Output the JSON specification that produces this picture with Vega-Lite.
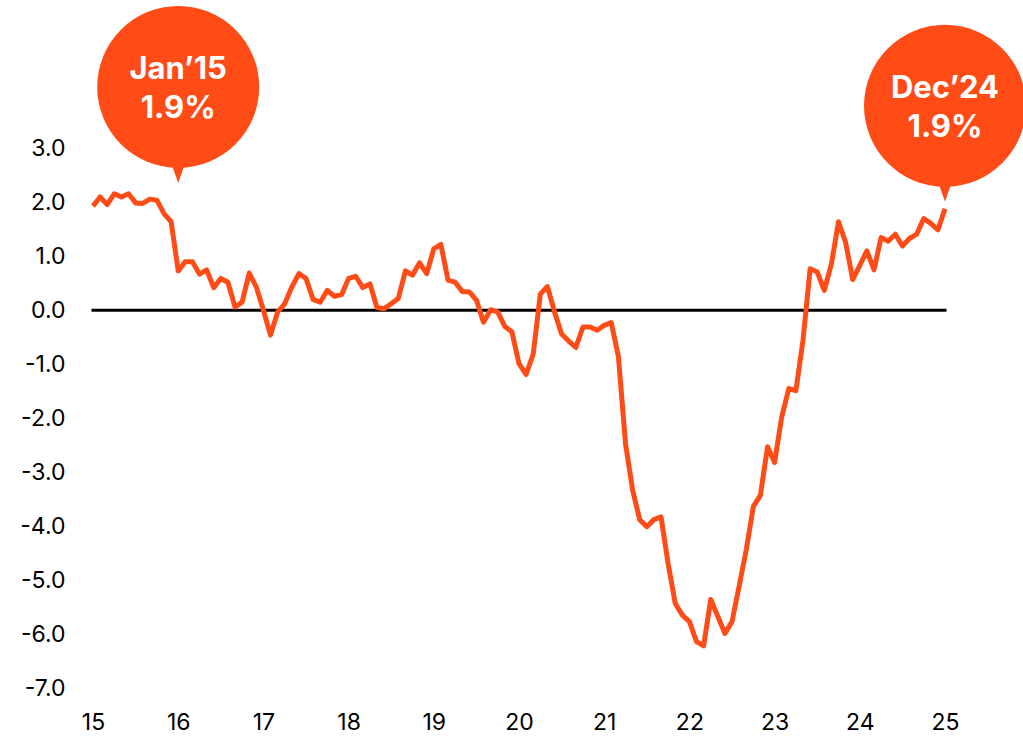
{
  "$schema": "https://vega.github.io/schema/vega-lite/v6.json",
  "width": 852,
  "height": 688,
  "autosize": "none",
  "padding": {"left": 93, "top": 0, "right": 78, "bottom": 48},
  "background": "white",
  "config": {
    "view": {"stroke": null},
    "axis": {"grid": false, "domain": false, "ticks": false, "title": null, "labelFont": "Inter", "labelFontSize": 23, "labelColor": "#000000", "labelFontWeight": "normal", "labelFlush": false}
  },
  "datasets": {
    "series": [
      {"year": 15, "value": 1.93}, {"year": 15.083, "value": 2.10}, {"year": 15.167, "value": 1.96}, {"year": 15.25, "value": 2.16},
      {"year": 15.333, "value": 2.10}, {"year": 15.417, "value": 2.16}, {"year": 15.5, "value": 1.99}, {"year": 15.583, "value": 1.98},
      {"year": 15.667, "value": 2.06}, {"year": 15.75, "value": 2.04}, {"year": 15.833, "value": 1.79}, {"year": 15.917, "value": 1.64},
      {"year": 16, "value": 0.73}, {"year": 16.083, "value": 0.90}, {"year": 16.167, "value": 0.90}, {"year": 16.25, "value": 0.67},
      {"year": 16.333, "value": 0.75}, {"year": 16.417, "value": 0.42}, {"year": 16.5, "value": 0.59}, {"year": 16.583, "value": 0.52},
      {"year": 16.667, "value": 0.06}, {"year": 16.75, "value": 0.15}, {"year": 16.833, "value": 0.69}, {"year": 16.917, "value": 0.43},
      {"year": 17, "value": 0.00}, {"year": 17.083, "value": -0.46}, {"year": 17.167, "value": -0.03}, {"year": 17.25, "value": 0.12},
      {"year": 17.333, "value": 0.43}, {"year": 17.417, "value": 0.68}, {"year": 17.5, "value": 0.59}, {"year": 17.583, "value": 0.20},
      {"year": 17.667, "value": 0.15}, {"year": 17.75, "value": 0.37}, {"year": 17.833, "value": 0.26}, {"year": 17.917, "value": 0.29},
      {"year": 18, "value": 0.59}, {"year": 18.083, "value": 0.63}, {"year": 18.167, "value": 0.42}, {"year": 18.25, "value": 0.49},
      {"year": 18.333, "value": 0.05}, {"year": 18.417, "value": 0.03}, {"year": 18.5, "value": 0.12}, {"year": 18.583, "value": 0.22},
      {"year": 18.667, "value": 0.73}, {"year": 18.75, "value": 0.65}, {"year": 18.833, "value": 0.88}, {"year": 18.917, "value": 0.68},
      {"year": 19, "value": 1.14}, {"year": 19.083, "value": 1.22}, {"year": 19.167, "value": 0.56}, {"year": 19.25, "value": 0.52},
      {"year": 19.333, "value": 0.35}, {"year": 19.417, "value": 0.34}, {"year": 19.5, "value": 0.19}, {"year": 19.583, "value": -0.22},
      {"year": 19.667, "value": 0.01}, {"year": 19.75, "value": -0.03}, {"year": 19.833, "value": -0.30}, {"year": 19.917, "value": -0.40},
      {"year": 20, "value": -0.99}, {"year": 20.083, "value": -1.19}, {"year": 20.167, "value": -0.81}, {"year": 20.25, "value": 0.30},
      {"year": 20.333, "value": 0.44}, {"year": 20.417, "value": -0.03}, {"year": 20.5, "value": -0.44}, {"year": 20.583, "value": -0.57},
      {"year": 20.667, "value": -0.69}, {"year": 20.75, "value": -0.31}, {"year": 20.833, "value": -0.31}, {"year": 20.917, "value": -0.37},
      {"year": 21, "value": -0.28}, {"year": 21.083, "value": -0.23}, {"year": 21.167, "value": -0.86}, {"year": 21.25, "value": -2.47},
      {"year": 21.333, "value": -3.33}, {"year": 21.417, "value": -3.88}, {"year": 21.5, "value": -4.01}, {"year": 21.583, "value": -3.88},
      {"year": 21.667, "value": -3.83}, {"year": 21.75, "value": -4.69}, {"year": 21.833, "value": -5.43}, {"year": 21.917, "value": -5.65},
      {"year": 22, "value": -5.77}, {"year": 22.083, "value": -6.14}, {"year": 22.167, "value": -6.22}, {"year": 22.25, "value": -5.36},
      {"year": 22.333, "value": -5.67}, {"year": 22.417, "value": -5.99}, {"year": 22.5, "value": -5.77}, {"year": 22.583, "value": -5.12},
      {"year": 22.667, "value": -4.44}, {"year": 22.75, "value": -3.64}, {"year": 22.833, "value": -3.43}, {"year": 22.917, "value": -2.53},
      {"year": 23, "value": -2.82}, {"year": 23.083, "value": -1.98}, {"year": 23.167, "value": -1.45}, {"year": 23.25, "value": -1.49},
      {"year": 23.333, "value": -0.56}, {"year": 23.417, "value": 0.77}, {"year": 23.5, "value": 0.71}, {"year": 23.583, "value": 0.37},
      {"year": 23.667, "value": 0.86}, {"year": 23.75, "value": 1.64}, {"year": 23.833, "value": 1.26}, {"year": 23.917, "value": 0.57},
      {"year": 24, "value": 0.83}, {"year": 24.083, "value": 1.10}, {"year": 24.167, "value": 0.75}, {"year": 24.25, "value": 1.35},
      {"year": 24.333, "value": 1.28}, {"year": 24.417, "value": 1.41}, {"year": 24.5, "value": 1.19}, {"year": 24.583, "value": 1.33},
      {"year": 24.667, "value": 1.41}, {"year": 24.75, "value": 1.70}, {"year": 24.833, "value": 1.61}, {"year": 24.917, "value": 1.49},
      {"year": 25, "value": 1.88}
    ],
    "notes": [
      {"year": 16, "value": 2.36, "line1": "Jan’15", "line2": "1.9%"},
      {"year": 25, "value": 2.01, "line1": "Dec’24", "line2": "1.9%"}
    ]
  },
  "layer": [
    {
      "data": {"values": [{}]},
      "mark": {"type": "rule", "color": "#000000", "strokeWidth": 3, "strokeCap": "square"},
      "encoding": {"y": {"datum": 0, "type": "quantitative"}}
    },
    {
      "data": {"name": "series"},
      "mark": {"type": "line", "color": "#ff4c17", "strokeWidth": 5, "strokeJoin": "round"},
      "encoding": {
        "x": {
          "field": "year", "type": "quantitative",
          "scale": {"domain": [15, 25], "nice": false, "zero": false},
          "axis": {"values": [15, 16, 17, 18, 19, 20, 21, 22, 23, 24, 25], "format": "d", "labelPadding": 23, "labelBaseline": "top"}
        },
        "y": {
          "field": "value", "type": "quantitative",
          "scale": {"domain": [-7, 5.75], "nice": false, "zero": false},
          "axis": {"values": [-7, -6, -5, -4, -3, -2, -1, 0, 1, 2, 3], "labelExpr": "(datum.value < 0 ? '-' : '') + format(abs(datum.value), '.1f')", "labelPadding": 28}
        }
      }
    },
    {
      "data": {"name": "notes"},
      "mark": {"type": "point", "shape": "circle", "filled": true, "opacity": 1, "size": 26244, "color": "#ff4c17", "yOffset": -96},
      "encoding": {"x": {"field": "year", "type": "quantitative"}, "y": {"field": "value", "type": "quantitative"}}
    },
    {
      "data": {"name": "notes"},
      "mark": {"type": "point", "shape": "M-0.7,-1L0.7,-1L0,1Z", "filled": true, "opacity": 1, "size": 625, "color": "#ff4c17", "yOffset": -12.5},
      "encoding": {"x": {"field": "year", "type": "quantitative"}, "y": {"field": "value", "type": "quantitative"}}
    },
    {
      "data": {"name": "notes"},
      "mark": {"type": "text", "color": "#ffffff", "font": "Inter", "fontWeight": "bold", "fontSize": 31, "align": "center", "baseline": "middle", "yOffset": -113},
      "encoding": {"x": {"field": "year", "type": "quantitative"}, "y": {"field": "value", "type": "quantitative"}, "text": {"field": "line1"}}
    },
    {
      "data": {"name": "notes"},
      "mark": {"type": "text", "color": "#ffffff", "font": "Inter", "fontWeight": "bold", "fontSize": 31, "align": "center", "baseline": "middle", "yOffset": -74},
      "encoding": {"x": {"field": "year", "type": "quantitative"}, "y": {"field": "value", "type": "quantitative"}, "text": {"field": "line2"}}
    }
  ]
}
